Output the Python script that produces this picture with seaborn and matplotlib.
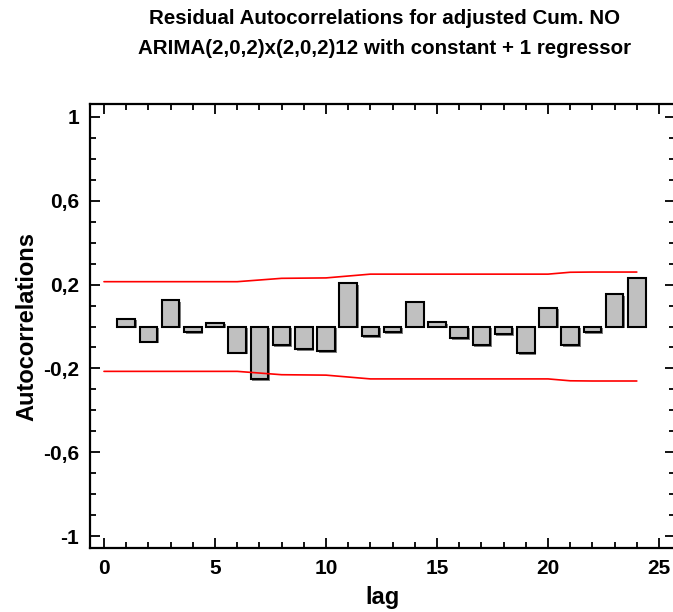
import numpy as np
import pandas as pd
import matplotlib
matplotlib.use("Agg")
import matplotlib.pyplot as plt
import matplotlib.patheffects as pe
from matplotlib.ticker import MultipleLocator, FixedLocator, FuncFormatter
import seaborn as sns

# Residual autocorrelations by lag
lags = list(range(1, 25))
acf = [0.037, -0.073, 0.125, -0.027, 0.019, -0.125, -0.251, -0.090,
       -0.108, -0.117, 0.206, -0.046, -0.027, 0.117, 0.021, -0.056,
       -0.090, -0.035, -0.127, 0.090, -0.090, -0.027, 0.154, 0.233]

# 95% probability limits, lag 0..24
limit_lags = list(range(0, 25))
upper_limit = [0.214, 0.214, 0.214, 0.214, 0.214, 0.214, 0.214, 0.222,
               0.230, 0.231, 0.232, 0.241, 0.250, 0.250, 0.250, 0.250,
               0.250, 0.250, 0.250, 0.250, 0.250, 0.259, 0.260, 0.260, 0.260]
lower_limit = [-v for v in upper_limit]

y_ticks = [-1.0, -0.6, -0.2, 0.2, 0.6, 1.0]

sns.set_theme(style="ticks")
plt.rcParams["font.family"] = ["Liberation Sans", "DejaVu Sans"]
plt.rcParams["font.weight"] = "bold"
for key in ("text.color", "axes.labelcolor", "xtick.color", "ytick.color", "axes.edgecolor"):
    plt.rcParams[key] = "black"

fig = plt.figure(figsize=(6.73, 6.12), dpi=100)
ax = fig.add_axes([90 / 673, 1 - 548 / 612, (675 - 90) / 673, (548 - 104) / 612])

df = pd.DataFrame({"lag": lags, "acf": acf})
sns.barplot(data=df, x="lag", y="acf", native_scale=True, width=0.8,
            color="#c0c0c0", edgecolor="black", linewidth=1.5,
            errorbar=None, saturation=1, ax=ax, zorder=2)
for p in ax.patches:
    p.set_facecolor("#c0c0c0")
    p.set_path_effects([pe.SimplePatchShadow(offset=(1.2, -1.2), shadow_rgbFace="#606060", alpha=0.8),
                        pe.Normal()])

lim_df = pd.DataFrame({"lag": limit_lags, "upper": upper_limit, "lower": lower_limit})
sns.lineplot(data=lim_df, x="lag", y="upper", color="red", linewidth=1.2, ax=ax, zorder=3)
sns.lineplot(data=lim_df, x="lag", y="lower", color="red", linewidth=1.2, ax=ax, zorder=3)

ax.set_xlim(-0.63, 25.72)
ax.set_ylim(-1.057, 1.062)

ax.xaxis.set_major_locator(MultipleLocator(5))
ax.xaxis.set_minor_locator(MultipleLocator(1))
ax.yaxis.set_major_locator(FixedLocator(y_ticks))
ax.yaxis.set_minor_locator(MultipleLocator(0.1))
ax.yaxis.set_major_formatter(FuncFormatter(lambda v, _: f"{v:g}".replace(".", ",")))
ax.xaxis.set_major_formatter(FuncFormatter(lambda v, _: f"{v:g}"))

ax.tick_params(which="both", direction="in", top=True, right=True, width=1.3, color="black",
               labelcolor="black")
ax.tick_params(which="major", length=7, labelsize=15, pad=8)
ax.tick_params(which="minor", length=4)
for lab in ax.get_xticklabels() + ax.get_yticklabels():
    lab.set_fontweight("bold")

for s in ax.spines.values():
    s.set_linewidth(1.6)
    s.set_color("black")

ax.set_xlabel("lag", fontsize=17, fontweight="bold", labelpad=6, color="black")
ax.set_ylabel("Autocorrelations", fontsize=17, fontweight="bold", labelpad=3, color="black")

fig.text(0.572, 1 - 18 / 612, "Residual Autocorrelations for adjusted Cum. NO",
         ha="center", va="center", fontsize=14.8, fontweight="bold", color="black")
fig.text(0.572, 1 - 48 / 612, "ARIMA(2,0,2)x(2,0,2)12 with constant + 1 regressor",
         ha="center", va="center", fontsize=14.8, fontweight="bold", color="black")

fig.savefig("out.png", dpi=100)
